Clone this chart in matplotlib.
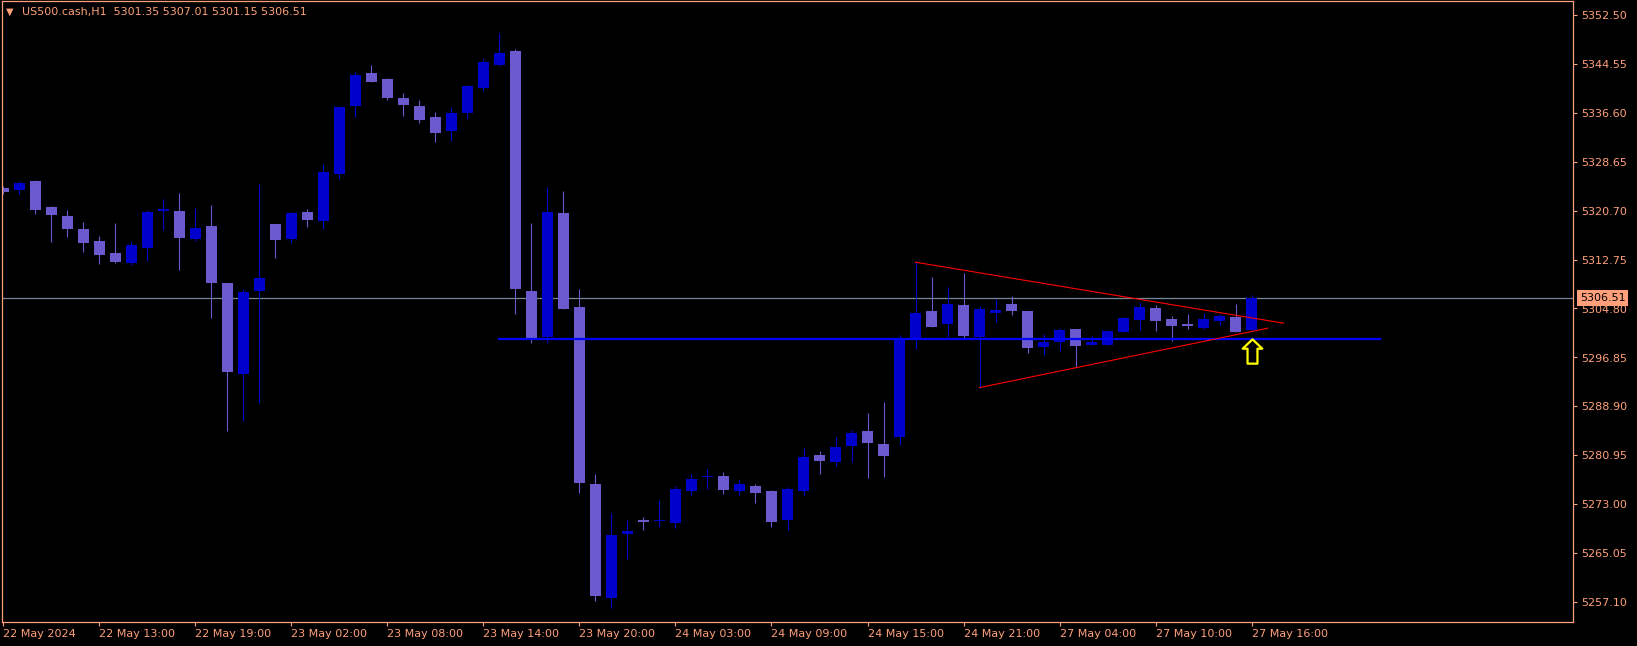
import matplotlib
matplotlib.use("Agg")
import matplotlib.pyplot as plt
import numpy as np
from matplotlib.path import Path

# US500.cash H1 candles, 22 May 07:00 .. 27 May 16:00
opens = [5324.40, 5324.12, 5325.53, 5321.31, 5319.84, 5317.73, 5315.78, 5313.83, 5312.20, 5314.64,
         5320.66, 5320.66, 5316.10, 5318.22, 5308.95, 5294.15, 5307.65, 5318.54, 5316.10, 5320.49,
         5319.03, 5326.67, 5337.73, 5343.10, 5342.12, 5339.03, 5337.73, 5335.94, 5333.66, 5336.59,
         5340.66, 5344.40, 5346.67, 5307.65, 5300.17, 5320.33, 5305.05, 5276.27, 5257.73, 5268.18,
         5270.41, 5270.25, 5269.92, 5275.13, 5277.35, 5277.57, 5275.13, 5275.94, 5275.13, 5270.41,
         5275.13, 5280.98, 5279.84, 5282.45, 5284.88, 5282.77, 5283.91, 5299.89, 5304.40, 5302.28,
         5305.37, 5300.17, 5304.07, 5305.53, 5304.40, 5298.54, 5299.36, 5301.47, 5298.87, 5298.87,
         5300.98, 5302.93, 5304.89, 5303.10, 5302.28, 5301.63, 5302.77, 5303.42, 5301.35]
highs = [5324.70, 5325.53, 5325.60, 5321.40, 5320.82, 5318.87, 5316.59, 5318.70, 5315.78, 5320.82,
         5322.61, 5323.58, 5321.14, 5321.63, 5309.00, 5307.97, 5325.05, 5318.60, 5320.54, 5320.98,
         5328.30, 5337.60, 5343.26, 5344.40, 5342.28, 5339.84, 5338.71, 5336.75, 5337.57, 5341.14,
         5345.37, 5349.60, 5347.00, 5318.70, 5324.56, 5323.91, 5307.97, 5277.89, 5271.55, 5270.41,
         5270.90, 5273.66, 5275.94, 5277.89, 5278.71, 5278.22, 5276.92, 5276.27, 5275.29, 5275.78,
         5282.12, 5281.63, 5283.91, 5285.05, 5287.81, 5289.60, 5300.49, 5312.36, 5309.92, 5308.30,
         5310.58, 5305.21, 5306.35, 5306.84, 5304.45, 5300.66, 5301.63, 5301.50, 5300.33, 5301.20,
         5303.42, 5305.86, 5305.37, 5303.58, 5303.91, 5304.07, 5303.91, 5305.53, 5307.01]
lows = [5323.40, 5323.47, 5320.17, 5315.62, 5316.43, 5313.99, 5312.04, 5312.20, 5311.88, 5312.53,
        5317.57, 5311.06, 5315.78, 5303.26, 5284.88, 5286.51, 5289.44, 5313.01, 5315.45, 5318.05,
        5317.73, 5325.86, 5335.94, 5341.60, 5338.71, 5336.10, 5334.96, 5331.88, 5332.04, 5335.62,
        5340.17, 5344.23, 5303.91, 5299.19, 5299.19, 5304.70, 5274.80, 5257.24, 5256.10, 5264.07,
        5268.79, 5269.27, 5269.11, 5274.48, 5275.45, 5274.64, 5274.48, 5273.18, 5269.27, 5268.79,
        5274.48, 5277.89, 5279.19, 5279.84, 5277.24, 5277.40, 5282.61, 5298.22, 5301.70, 5300.17,
        5299.84, 5291.93, 5302.61, 5303.75, 5297.57, 5297.24, 5297.89, 5295.29, 5298.80, 5298.80,
        5300.90, 5301.31, 5301.14, 5299.52, 5301.47, 5301.47, 5302.12, 5300.90, 5301.15]
closes = [5323.70, 5325.21, 5320.82, 5320.01, 5317.73, 5315.45, 5313.50, 5312.36, 5315.13, 5320.49,
          5320.98, 5316.27, 5317.89, 5308.95, 5294.48, 5307.49, 5309.76, 5315.94, 5320.33, 5319.19,
          5327.00, 5337.57, 5342.77, 5341.63, 5339.03, 5337.89, 5335.45, 5333.34, 5336.59, 5340.98,
          5344.88, 5346.35, 5307.97, 5300.01, 5320.49, 5304.72, 5276.43, 5258.05, 5267.97, 5268.62,
          5270.09, 5270.46, 5275.45, 5277.08, 5277.57, 5275.29, 5276.27, 5274.80, 5270.09, 5275.45,
          5280.66, 5280.01, 5282.28, 5284.56, 5282.93, 5280.82, 5299.89, 5304.07, 5301.79, 5305.53,
          5300.33, 5304.72, 5304.56, 5304.40, 5298.38, 5299.36, 5301.31, 5298.71, 5299.36, 5301.14,
          5303.26, 5305.05, 5302.77, 5301.96, 5301.96, 5303.10, 5303.58, 5300.98, 5306.51]

time_labels = ["22 May 2024", "22 May 13:00", "22 May 19:00", "23 May 02:00", "23 May 08:00",
               "23 May 14:00", "23 May 20:00", "24 May 03:00", "24 May 09:00", "24 May 15:00",
               "24 May 21:00", "27 May 04:00", "27 May 10:00", "27 May 16:00"]
label_bars = [0, 6, 12, 18, 24, 30, 36, 42, 48, 54, 60, 66, 72, 78]
price_ticks = [5257.10, 5265.05, 5273.00, 5280.95, 5288.90, 5296.85, 5304.80,
               5312.75, 5320.70, 5328.65, 5336.60, 5344.55, 5352.50]

# drawn objects
support_level = 5299.89
support_bars = [31, 86]
tri_upper_bars = [57, 80]
tri_upper_prices = [5312.31, 5302.40]
tri_lower_bars = [61, 79]
tri_lower_prices = [5291.93, 5301.58]
arrow_bar = 78
arrow_price = 5297.89

fg = "#FFA07A"
bull_col = "#0000CD"
bear_col = "#6A5ACD"

fig = plt.figure(figsize=(16.37, 6.462), dpi=100, facecolor="black")
ax = fig.add_axes([2 / 1637, 24 / 646, 1571 / 1637, 621 / 646])
ax.set_facecolor("black")

o = np.array(opens)
c = np.array(closes)
x = np.arange(len(o))
colors = [bull_col if cc >= oo else bear_col for oo, cc in zip(o, c)]
body_bottom = np.minimum(o, c)
body_height = np.maximum(np.abs(c - o), 0.17)

ax.axhline(closes[-1], color="#778899", lw=0.9, zorder=1)
ax.vlines(x, lows, highs, colors=colors, lw=0.8, zorder=2)
ax.bar(x, body_height, bottom=body_bottom, width=0.69, color=colors, linewidth=0, zorder=2)

ax.plot(support_bars, [support_level, support_level], color="#0000FF", lw=1.6, zorder=3)
ax.plot(tri_upper_bars, tri_upper_prices, color="#FF0000", lw=0.8, zorder=3)
ax.plot(tri_lower_bars, tri_lower_prices, color="#FF0000", lw=0.8, zorder=3)

arrow = Path([(0, 13), (10.5, 3), (5.3, 3), (5.3, -13), (-5.3, -13), (-5.3, 3), (-10.5, 3), (0, 13)],
             [Path.MOVETO] + [Path.LINETO] * 6 + [Path.CLOSEPOLY])
ax.plot([arrow_bar], [arrow_price], marker=arrow, markersize=17.5, markerfacecolor="black",
        markeredgecolor="#FFFF00", markeredgewidth=1.6, zorder=4)

ax.set_xlim(-0.09, 98.09)
ax.set_ylim(5253.83, 5354.80)

for s in ax.spines.values():
    s.set_color(fg)
    s.set_linewidth(0.9)

ax.yaxis.tick_right()
ax.set_yticks(price_ticks)
ax.set_yticklabels([f"{p:.2f}" for p in price_ticks])
ax.tick_params(axis="y", colors=fg, length=3, width=0.8, pad=3, labelsize=8)

ax.set_xticks(label_bars)
ax.set_xticklabels(time_labels, ha="left")
ax.tick_params(axis="x", colors=fg, length=3, width=0.8, pad=2, labelsize=8)

# current price tag on the right scale
ax.annotate(f"{closes[-1]:.2f}", xy=(1, closes[-1]), xycoords=("axes fraction", "data"),
            xytext=(7, 0), textcoords="offset pixels", va="center", ha="left", fontsize=8,
            color="black", annotation_clip=False, zorder=10,
            bbox=dict(boxstyle="square,pad=0.25", fc=fg, ec="none"))

# header
ax.annotate("\u25BC", xy=(0, 1), xycoords="axes fraction", xytext=(4, -11), textcoords="offset pixels",
            va="center", ha="left", fontsize=7, color=fg)
header = f"US500.cash,H1  {opens[-1]:.2f} {highs[-1]:.2f} {lows[-1]:.2f} {closes[-1]:.2f}"
ax.annotate(header, xy=(0, 1), xycoords="axes fraction", xytext=(20, -11), textcoords="offset pixels",
            va="center", ha="left", fontsize=8, color=fg)

fig.savefig("out.png", dpi=100, facecolor="black")
